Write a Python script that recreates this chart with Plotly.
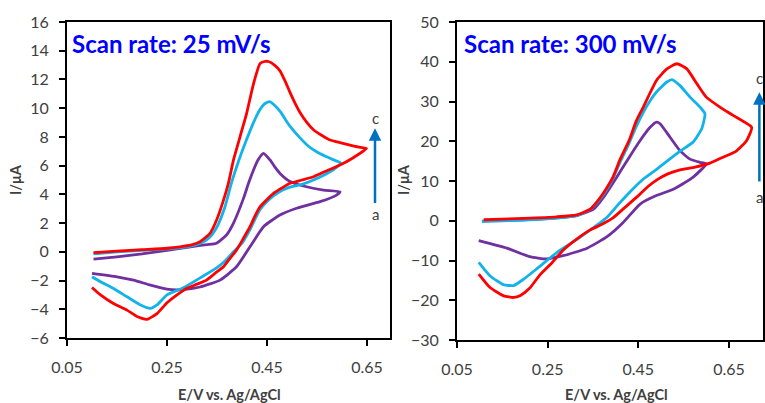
import plotly.graph_objects as go

# ---- Cyclic voltammograms at 25 mV/s (curves a, b, c) ----
e25_a = [0.103, 0.15, 0.2, 0.25, 0.297, 0.33, 0.349, 0.369, 0.383, 0.403, 0.413, 0.423, 0.432, 0.443,
         0.456, 0.466, 0.476, 0.496, 0.529, 0.563, 0.596,
         0.589, 0.556, 0.509, 0.476, 0.443, 0.416, 0.389, 0.356, 0.316, 0.29, 0.269, 0.25, 0.217, 0.183,
         0.15, 0.1]
i25_a = [-0.51, -0.35, -0.15, 0.1, 0.35, 0.5, 0.6, 1.17, 2.0, 3.72, 4.77, 5.7, 6.4, 6.86,
         6.4, 5.9, 5.46, 4.9, 4.53, 4.3, 4.18,
         3.95, 3.49, 3.03, 2.56, 1.75, 0.35, -1.04, -1.97, -2.45, -2.6, -2.65, -2.6, -2.32, -1.97,
         -1.74, -1.5]

e25_b = [0.103, 0.15, 0.2, 0.25, 0.297, 0.317, 0.335, 0.35, 0.366, 0.379, 0.393, 0.409, 0.423, 0.436,
         0.445, 0.455, 0.465, 0.477, 0.487, 0.497, 0.517, 0.533, 0.55, 0.567, 0.583, 0.597,
         0.59, 0.57, 0.543, 0.52, 0.496, 0.476, 0.456, 0.436, 0.416, 0.4, 0.383, 0.367, 0.35, 0.317,
         0.283, 0.25, 0.23, 0.217, 0.197, 0.17, 0.143, 0.117, 0.1]
i25_b = [-0.15, 0.0, 0.1, 0.2, 0.4, 0.6, 1.0, 1.74, 3.14, 4.8, 6.3, 7.8, 9.0, 9.9,
         10.3, 10.45, 10.2, 9.74, 9.2, 8.7, 7.9, 7.35, 6.95, 6.65, 6.4, 6.2,
         5.9, 5.45, 5.0, 4.7, 4.5, 4.2, 3.7, 2.95, 1.55, 0.6, 0.0, -0.6, -1.1, -1.8,
         -2.5, -3.0, -3.7, -3.94, -3.7, -3.13, -2.55, -2.09, -1.74]

e25_c = [0.103, 0.15, 0.2, 0.25, 0.276, 0.297, 0.316, 0.336, 0.349, 0.363, 0.373, 0.383, 0.396, 0.409,
         0.423, 0.436, 0.445, 0.453, 0.465, 0.476, 0.486, 0.496, 0.506, 0.516, 0.53, 0.543, 0.56,
         0.576, 0.596, 0.616, 0.632, 0.649,
         0.62, 0.596, 0.57, 0.543, 0.52, 0.496, 0.48, 0.463, 0.45, 0.436, 0.426, 0.416, 0.403, 0.389,
         0.376, 0.363, 0.346, 0.329, 0.31, 0.289, 0.27, 0.25, 0.23, 0.21, 0.19, 0.17, 0.143, 0.117, 0.1]
i25_c = [-0.05, 0.05, 0.15, 0.25, 0.35, 0.46, 0.7, 1.29, 2.2, 3.6, 4.8, 6.4, 8.0, 9.6,
         11.7, 13.1, 13.25, 13.25, 13.0, 12.6, 11.9, 11.1, 10.35, 9.7, 9.0, 8.5, 8.1,
         7.78, 7.6, 7.43, 7.3, 7.2,
         6.5, 6.04, 5.65, 5.23, 5.0, 4.77, 4.45, 4.07, 3.65, 3.14, 2.5, 1.75, 0.95, 0.12,
         -0.45, -1.04, -1.5, -1.97, -2.25, -2.55, -3.0, -3.55, -4.3, -4.7, -4.5, -4.06, -3.6, -3.0, -2.48]

# ---- Cyclic voltammograms at 300 mV/s (curves a, b, c) ----
e300_a = [0.105, 0.197, 0.27, 0.314, 0.351, 0.373, 0.402, 0.43, 0.454, 0.476, 0.49, 0.498, 0.52,
          0.542, 0.564, 0.586, 0.6,
          0.571, 0.527, 0.491, 0.454, 0.416, 0.381, 0.337, 0.284, 0.248, 0.21, 0.16, 0.098]
i300_a = [-0.1, 0.2, 0.7, 1.3, 2.9, 5.9, 10.9, 16.0, 20.2, 23.5, 24.8, 24.4, 21.0,
          17.6, 15.5, 14.7, 14.3,
          11.0, 7.9, 6.4, 4.2, -0.5, -4.0, -6.9, -8.8, -9.6, -9.0, -6.9, -5.0]

e300_b = [0.105, 0.197, 0.27, 0.314, 0.344, 0.359, 0.373, 0.394, 0.41, 0.43, 0.445, 0.461, 0.476,
          0.49, 0.513, 0.524, 0.542, 0.564, 0.586, 0.597,
          0.59, 0.571, 0.542, 0.491, 0.461, 0.432, 0.405, 0.381, 0.35, 0.322, 0.27, 0.227, 0.197,
          0.175, 0.153, 0.123, 0.098]
i300_b = [-0.17, 0.17, 0.67, 1.26, 2.9, 4.6, 6.6, 10.6, 14.8, 19.6, 23.6, 27.3, 30.2,
          32.4, 34.9, 35.5, 34.0, 31.1, 28.6, 26.9,
          23.2, 19.8, 17.5, 13.0, 10.5, 7.3, 4.0, 0.9, -1.8, -4.1, -8.0, -12.0, -14.7,
          -16.3, -16.1, -13.9, -10.5]

e300_c = [0.109, 0.197, 0.27, 0.314, 0.344, 0.359, 0.373, 0.394, 0.41, 0.43, 0.445, 0.461, 0.476,
          0.49, 0.513, 0.535, 0.557, 0.579, 0.6, 0.63, 0.659, 0.7,
          0.689, 0.667, 0.637, 0.608, 0.575, 0.542, 0.515, 0.491, 0.47, 0.447, 0.42, 0.394, 0.37,
          0.344, 0.314, 0.284, 0.26, 0.233, 0.21, 0.19, 0.175, 0.153, 0.123, 0.098]
i300_c = [0.25, 0.6, 1.0, 1.5, 2.9, 4.8, 7.0, 11.0, 15.5, 20.3, 25.0, 28.6, 32.2,
          35.3, 38.2, 39.5, 38.2, 34.5, 31.1, 28.6, 26.5, 23.5,
          20.2, 17.6, 16.0, 14.5, 13.5, 12.8, 11.8, 10.3, 8.5, 6.0, 3.3, 0.7, -0.9,
          -2.3, -4.6, -7.4, -10.5, -13.6, -17.0, -18.8, -19.3, -18.9, -16.8, -13.4]

x_ticks = [0.05, 0.25, 0.45, 0.65]
x_tick_text = ["0.05", "0.25", "0.45", "0.65"]
panel_titles = ["Scan rate: 25 mV/s", "Scan rate: 300 mV/s"]

COL_A = "#7030A0"
COL_B = "#12B2EA"
COL_C = "#FF0000"
LW = 2.8

fig = go.Figure()
for xs, ys, col in [(e25_a, i25_a, COL_A), (e25_b, i25_b, COL_B), (e25_c, i25_c, COL_C)]:
    fig.add_trace(go.Scatter(x=xs, y=ys, mode="lines", line=dict(color=col, width=LW, shape="spline", smoothing=0.5),
                             xaxis="x", yaxis="y", showlegend=False, hoverinfo="skip"))
for xs, ys, col in [(e300_a, i300_a, COL_A), (e300_b, i300_b, COL_B), (e300_c, i300_c, COL_C)]:
    fig.add_trace(go.Scatter(x=xs, y=ys, mode="lines", line=dict(color=col, width=LW, shape="spline", smoothing=0.5),
                             xaxis="x2", yaxis="y2", showlegend=False, hoverinfo="skip"))

W, H = 765, 403
TICK_FONT = dict(family="Lato, Carlito, sans-serif", size=16, color="#404040")
TITLE_FONT = dict(family="Lato, Carlito, sans-serif", size=14.5, color="#404040")

axis_common = dict(showgrid=False, zeroline=False, showline=True, linecolor="black", linewidth=2,
                   mirror=True, ticks="outside", ticklen=6, tickwidth=1.5, tickcolor="black",
                   tickfont=TICK_FONT, automargin=False)

fig.update_layout(
    width=W, height=H,
    margin=dict(l=0, r=0, t=0, b=0, autoexpand=False),
    paper_bgcolor="white", plot_bgcolor="white",
    xaxis=dict(domain=[67 / W, 390 / W], range=[0.05, 0.696], tickvals=x_ticks, ticktext=x_tick_text,
               anchor="y", ticklabelstandoff=8, **axis_common),
    yaxis=dict(domain=[1 - 338 / H, 1 - 22 / H], range=[-6, 16], dtick=2, tick0=-6,
               anchor="x", ticklabelstandoff=7, **axis_common),
    xaxis2=dict(domain=[457 / W, 763 / W], range=[0.05, 0.725], tickvals=x_ticks, ticktext=x_tick_text,
                anchor="y2", ticklabelstandoff=8, **axis_common),
    yaxis2=dict(domain=[1 - 340 / H, 1 - 22 / H], range=[-30, 50], dtick=10, tick0=-30,
                anchor="x2", ticklabelstandoff=7, **axis_common),
)

ann = []
# panel headings
for txt, xp in zip(panel_titles, [70, 462]):
    ann.append(dict(text="<b>%s</b>" % txt, xref="paper", yref="paper", x=xp / W, y=1 - 43 / H,
                    xanchor="left", yanchor="middle", showarrow=False,
                    font=dict(family="Lato, Carlito, sans-serif", size=24, color="#0000FF")))
# axis titles
for xc in [229, 616]:
    ann.append(dict(text="<b>E/V vs. Ag/AgCl</b>", xref="paper", yref="paper", x=xc / W, y=1 - 394 / H,
                    xanchor="center", yanchor="middle", showarrow=False, font=TITLE_FONT))
for xc in [15, 403]:
    ann.append(dict(text="<b>I/μA</b>", xref="paper", yref="paper", x=xc / W, y=1 - 180 / H,
                    xanchor="center", yanchor="middle", showarrow=False, textangle=-90, font=TITLE_FONT))

# a -> c arrows
ARROW_COL = "#0070C0"
for xr, yr, xa, y_tail, y_tip, y_c, y_a in [("x", "y", 0.666, 3.3, 8.6, 9.3, 2.6),
                                             ("x2", "y2", 0.717, 9.5, 32.3, 35.8, 6.0)]:
    ann.append(dict(x=xa, y=y_tip, ax=xa, ay=y_tail, xref=xr, yref=yr, axref=xr, ayref=yr,
                    text="", showarrow=True, arrowhead=2, arrowsize=1.0, arrowwidth=2.5,
                    arrowcolor=ARROW_COL, standoff=0, startstandoff=0))
    ann.append(dict(x=xa, y=y_c, xref=xr, yref=yr, text="c", showarrow=False,
                    xanchor="center", yanchor="middle",
                    font=dict(family="Lato, Carlito, sans-serif", size=15, color="#404040")))
    ann.append(dict(x=xa, y=y_a, xref=xr, yref=yr, text="a", showarrow=False,
                    xanchor="center", yanchor="middle",
                    font=dict(family="Lato, Carlito, sans-serif", size=15, color="#404040")))

fig.update_layout(annotations=ann)
fig.write_html("out.html")
